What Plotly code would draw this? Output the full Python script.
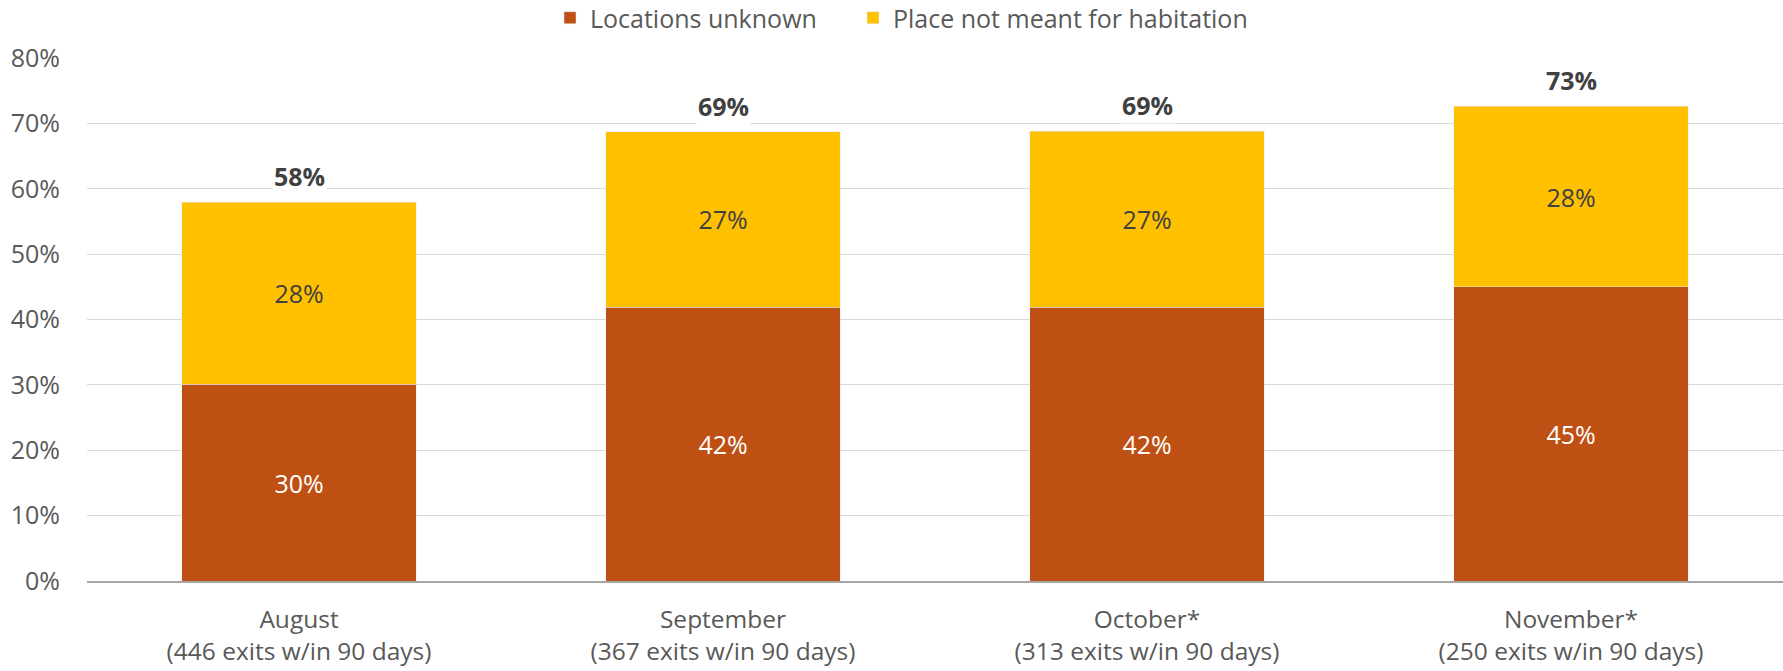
import plotly.graph_objects as go

months = ["August", "September", "October*", "November*"]
exits = [446, 367, 313, 250]
locations_unknown = [30.1, 41.9, 41.9, 45.0]
place_not_meant = [27.8, 26.8, 26.9, 27.6]
totals = [round(a + b, 1) for a, b in zip(locations_unknown, place_not_meant)]
total_labels = [58, 69, 69, 73]

tick_text = [f"{m}<br>({e} exits w/in 90 days)" for m, e in zip(months, exits)]

FONT = "'Open Sans', 'Noto Sans', sans-serif"
BROWN = "#BF5014"
YELLOW = "#FFC000"
GRAY = "#595959"
SIZE = 25

W, H = 1783, 671

fig = go.Figure()
fig.add_trace(go.Bar(
    name="Locations unknown", x=months, y=locations_unknown,
    marker_color=BROWN, legend="legend", showlegend=True,
    text=[f"{round(v)}%" for v in locations_unknown],
    textposition="inside", insidetextanchor="middle",
    textfont=dict(color="white", size=SIZE, family=FONT),
))
fig.add_trace(go.Bar(
    name="Place not meant for habitation", x=months, y=place_not_meant,
    marker_color=YELLOW, legend="legend2", showlegend=True,
    text=[f"{round(v)}%" for v in place_not_meant],
    textposition="inside", insidetextanchor="middle",
    textfont=dict(color="#404040", size=SIZE, family=FONT),
))

for m, t, lab in zip(months, totals, total_labels):
    fig.add_annotation(
        x=m, y=t, text=f"<b>{lab}%</b>", showarrow=False,
        yanchor="bottom", yshift=7, bgcolor="white",
        font=dict(size=SIZE, color="#404040", family=FONT),
    )

legend_common = dict(
    orientation="h", xanchor="left", xref="container",
    y=1 - 18 / H, yref="container", yanchor="middle",
    font=dict(size=SIZE, color=GRAY, family=FONT),
    bgcolor="rgba(0,0,0,0)",
)

fig.update_layout(
    barmode="stack",
    bargap=0.446,
    width=W, height=H,
    showlegend=True,
    margin=dict(l=87, r=0, t=58, b=90, autoexpand=False),
    plot_bgcolor="white", paper_bgcolor="white",
    font=dict(family=FONT, color=GRAY, size=SIZE),
    legend=dict(x=550 / W, **legend_common),
    legend2=dict(x=853 / W, **legend_common),
    xaxis=dict(
        tickmode="array", tickvals=months, ticktext=tick_text,
        showline=True, linecolor="#a6a6a6", linewidth=1.5,
        ticks="", tickfont=dict(size=24.5, color=GRAY, family=FONT),
        showgrid=False, automargin=False, ticklabelstandoff=16,
    ),
    yaxis=dict(
        range=[0, 80], dtick=10, ticksuffix="%",
        showgrid=True, gridcolor="#d9d9d9", gridwidth=1,
        zeroline=False, ticks="", ticklabelstandoff=26, automargin=False,
        tickfont=dict(size=SIZE, color=GRAY, family=FONT),
    ),
)

fig.write_html(
    "out.html",
    config={"displayModeBar": False},
    post_script="document.body.style.margin='0';document.body.style.overflow='hidden';",
)
